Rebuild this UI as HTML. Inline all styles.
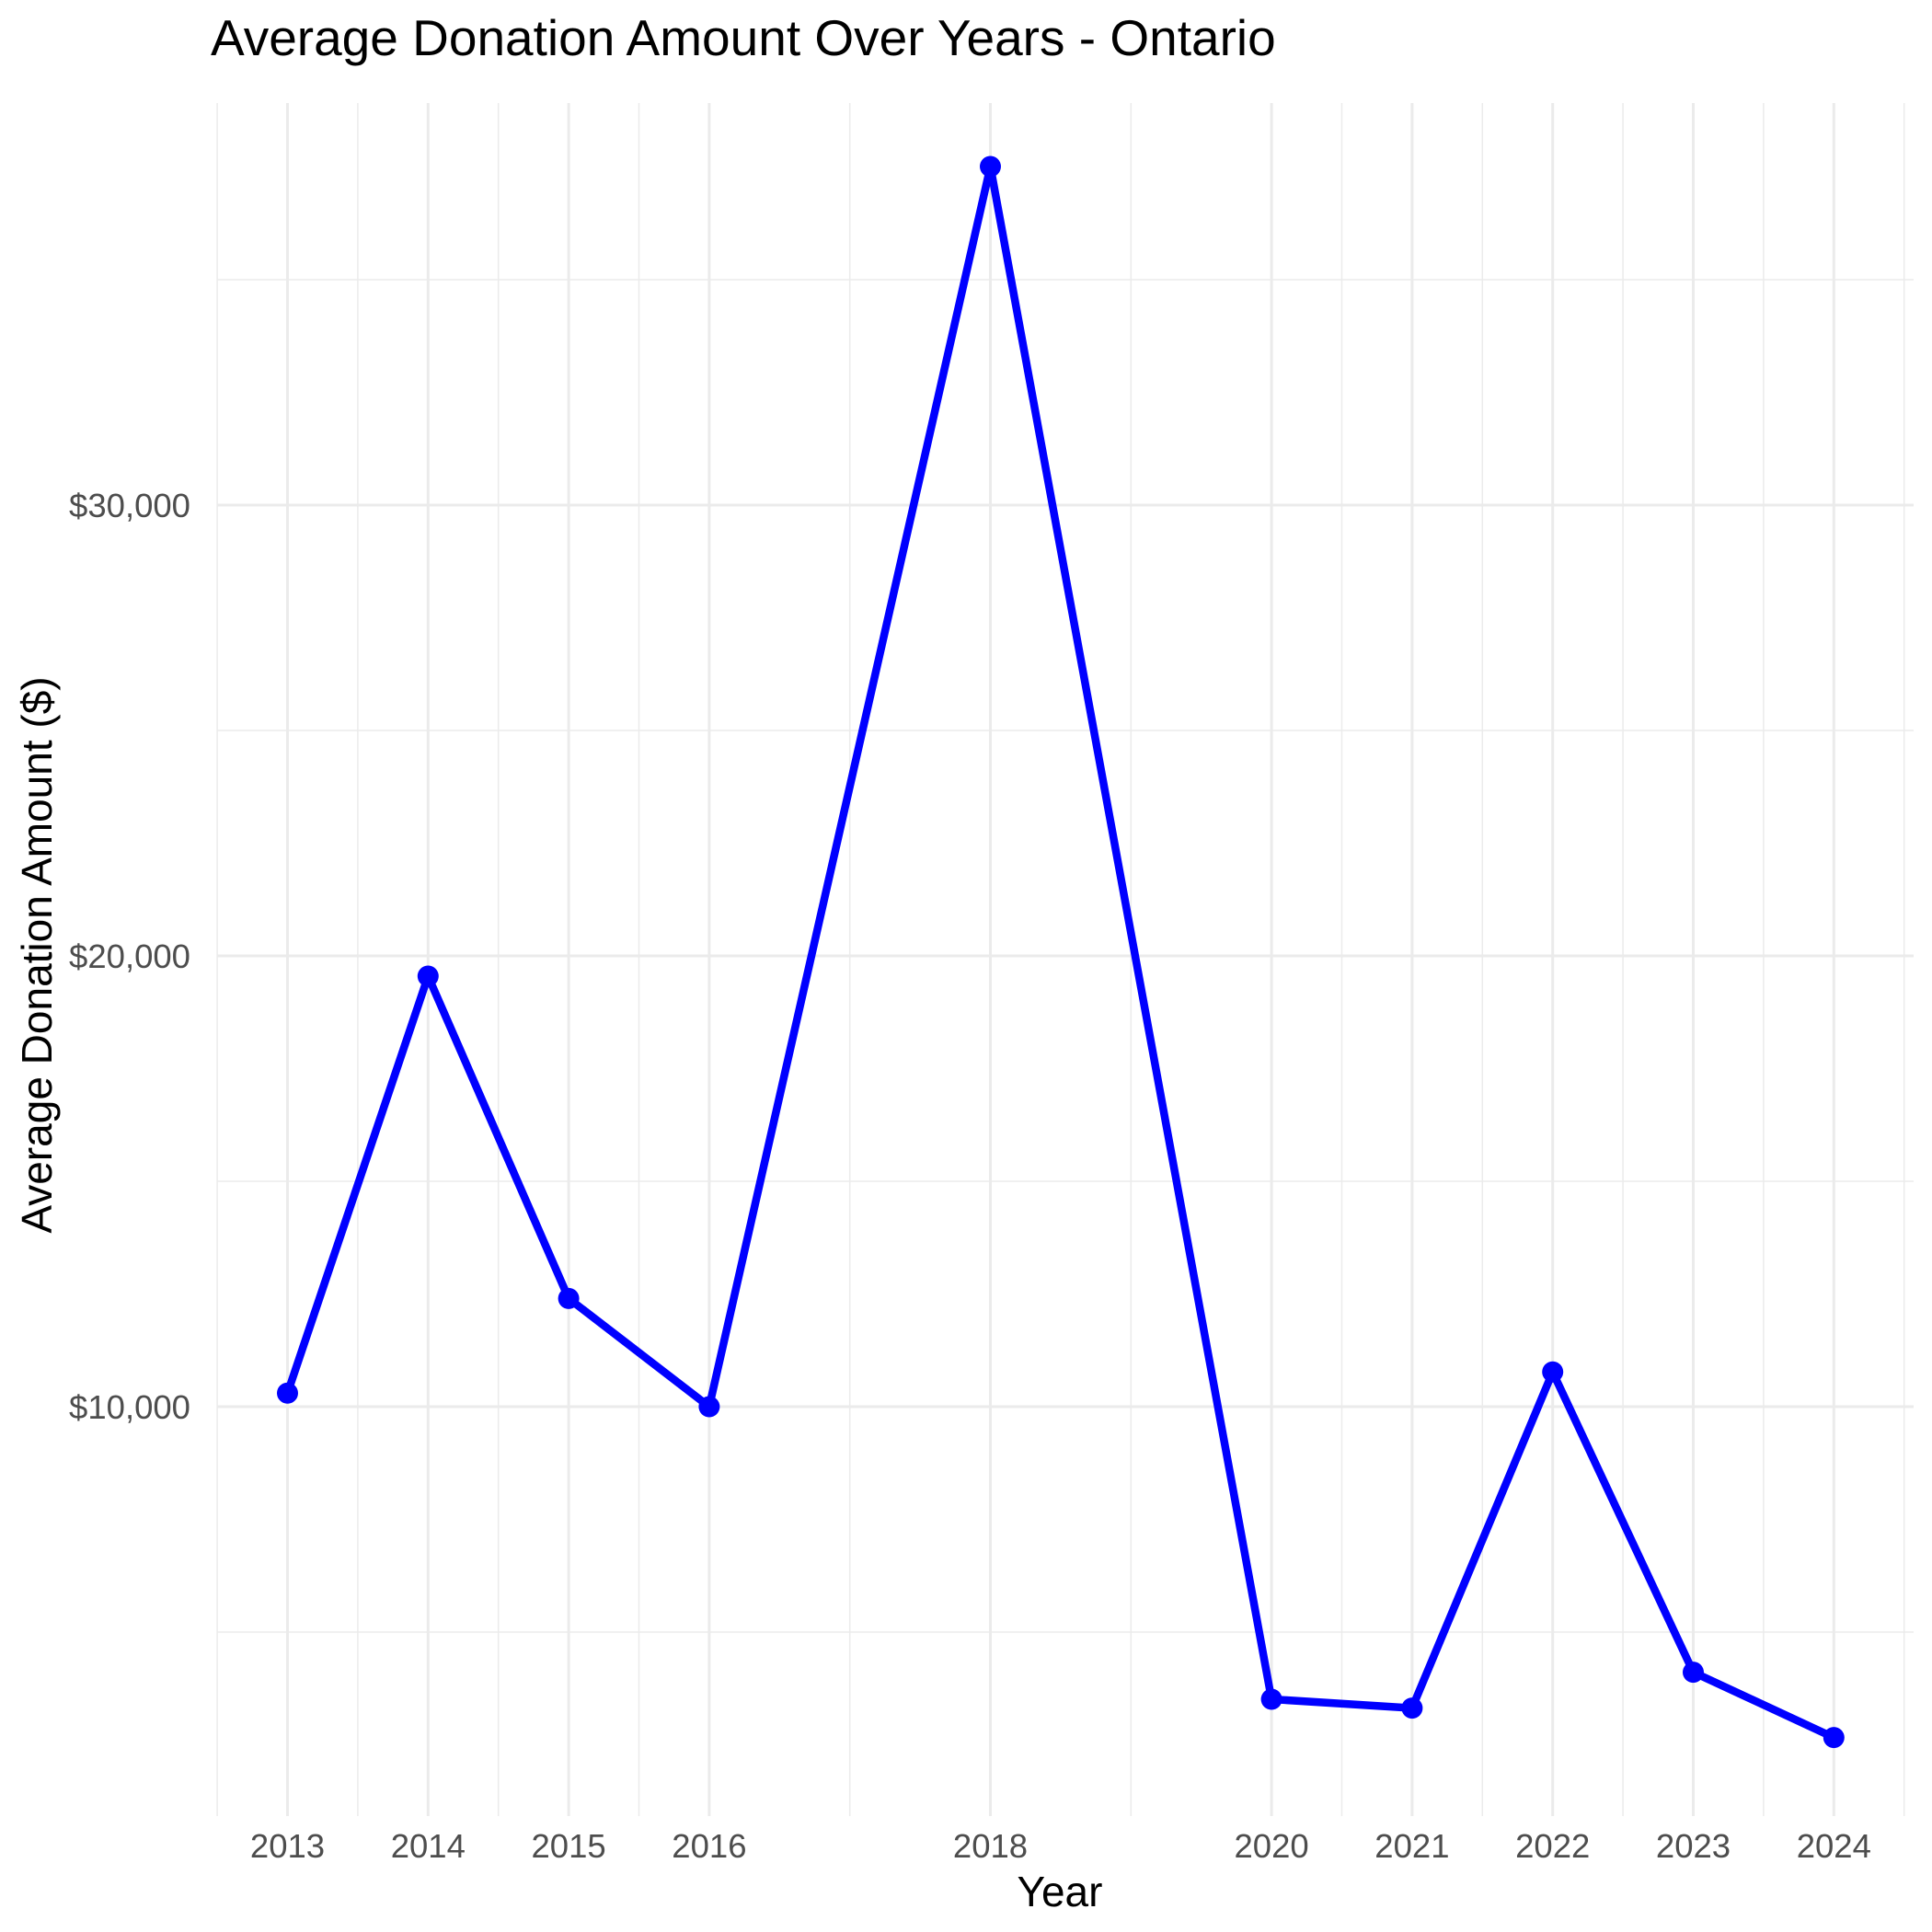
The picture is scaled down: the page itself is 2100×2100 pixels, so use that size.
<!DOCTYPE html>
<html><head><meta charset="utf-8"><style>
html,body{margin:0;padding:0;background:#fff;}
svg{display:block;font-family:"Liberation Sans",Arial,sans-serif;}
</style></head><body>
<svg id="chart" width="2100" height="2100" viewBox="0 0 2100 2100" xmlns="http://www.w3.org/2000/svg">
<rect width="2100" height="2100" fill="#fff"/>
<text x="229" y="60" font-size="55" fill="#000">Average Donation Amount Over Years - Ontario</text>
<g id="grid"></g>
<g id="series"></g>
<g id="axes"></g>
<text x="1152" y="2072" font-size="46" text-anchor="middle" fill="#000">Year</text>
<text transform="translate(56,1038) rotate(-90)" font-size="46" text-anchor="middle" fill="#000">Average Donation Amount ($)</text>
</svg>
<script>
const years = [2013, 2014, 2015, 2016, 2018, 2020, 2021, 2022, 2023, 2024];
const values = [10300, 19550, 12400, 10000, 37510, 3510, 3315, 10770, 4110, 2660];
const yTicks = [10000, 20000, 30000];
const yTickLabels = ["$10,000", "$20,000", "$30,000"];
const yMinor = [5000, 15000, 25000, 35000];

const NS = "http://www.w3.org/2000/svg";
const X0 = 312.5, XS = 152.8, Y10 = 1529, YS = 0.049;
const PL = 236, PR = 2080, PT = 112, PB = 1974;
function xs(v){ return X0 + (v - 2013) * XS; }
function ys(v){ return Y10 - (v - 10000) * YS; }
function mk(tag, attrs, parent){
  const e = document.createElementNS(NS, tag);
  for (const k in attrs) e.setAttribute(k, attrs[k]);
  parent.appendChild(e); return e;
}
const grid = document.getElementById('grid');
const series = document.getElementById('series');
const axes = document.getElementById('axes');

yMinor.forEach(v => {
  const l = mk('line', {x1: PL, x2: PR, y1: ys(v), y2: ys(v), stroke: '#ebebeb', 'stroke-width': 1.5}, grid);
  
  
});
const xMinor = [years[0] - 0.5];
for (let i = 0; i < years.length - 1; i++) xMinor.push((years[i] + years[i+1]) / 2);
xMinor.push(years[years.length-1] + 0.5);
xMinor.forEach(v => {
  const l = mk('line', {x1: xs(v), x2: xs(v), y1: PT, y2: PB, stroke: '#ebebeb', 'stroke-width': 1.5}, grid);
  
  
});
yTicks.forEach((v, i) => {
  const l = mk('line', {x1: PL, x2: PR, y1: ys(v), y2: ys(v), stroke: '#ebebeb', 'stroke-width': 3}, grid);
  
  
  const t = mk('text', {x: 207, y: ys(v) + 13, 'font-size': 36.5, 'text-anchor': 'end', fill: '#4d4d4d'}, axes);
  t.textContent = yTickLabels[i];
  
  
});
years.forEach(v => {
  const l = mk('line', {x1: xs(v), x2: xs(v), y1: PT, y2: PB, stroke: '#ebebeb', 'stroke-width': 3}, grid);
  
  
  const t = mk('text', {x: xs(v), y: 2019, 'font-size': 36.5, 'text-anchor': 'middle', fill: '#4d4d4d'}, axes);
  t.textContent = String(v);
  
  
});
const pts = years.map((y, i) => xs(y) + ',' + ys(values[i])).join(' ');
const line = mk('polyline', {points: pts, fill: 'none', stroke: '#0000ff', 'stroke-width': 8.5, 'stroke-linejoin': 'round'}, series);


years.forEach((y, i) => {
  const c = mk('circle', {cx: xs(y), cy: ys(values[i]), r: 11.5, fill: '#0000ff'}, series);
  
  
});
</script>
</body></html>
